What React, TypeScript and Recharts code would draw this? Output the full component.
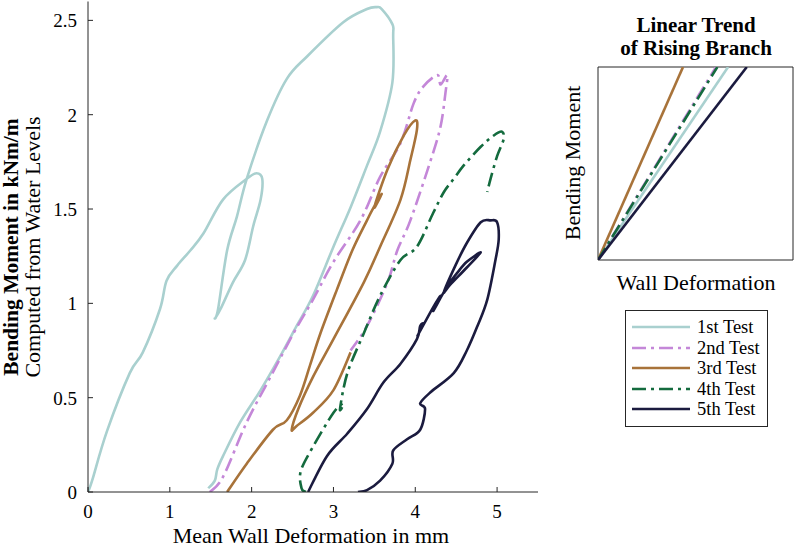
import React from "react";
import { ComposedChart, Line, XAxis, YAxis, ReferenceArea, Legend } from "recharts";

// tick labels and legend names
const xTicks = [0, 1, 2, 3, 4, 5];
const yTicks = [0, 0.5, 1, 1.5, 2, 2.5];
const testNames = ["1st Test", "2nd Test", "3rd Test", "4th Test", "5th Test"];

// measured loops, [deformation in mm, bending moment in kNm/m]
const test1: [number, number][] = [
    [0, 0], [0.05, 0.06], [0.23, 0.32], [0.51, 0.63], [0.67, 0.74], [0.88, 0.97],
    [0.96, 1.12], [1.09, 1.2], [1.25, 1.28], [1.41, 1.37], [1.65, 1.55], [1.94, 1.66],
    [2.06, 1.69], [2.13, 1.66], [2.11, 1.55], [2.02, 1.41], [1.92, 1.23], [1.77, 1.11],
    [1.62, 0.97], [1.55, 0.92], [1.59, 0.97], [1.7, 1.28], [1.82, 1.46], [1.94, 1.66],
    [2.19, 1.97], [2.43, 2.19], [2.68, 2.31], [3.12, 2.49], [3.41, 2.56], [3.53, 2.57],
    [3.59, 2.56], [3.72, 2.48], [3.73, 2.42], [3.72, 2.17], [3.57, 1.91], [3.41, 1.73],
    [3.21, 1.51], [3.0, 1.3], [2.75, 1.04], [2.55, 0.88], [2.35, 0.72], [2.11, 0.54],
    [1.86, 0.37], [1.65, 0.19], [1.58, 0.12], [1.55, 0.06], [1.47, 0.02],
];

const test2: [number, number][] = [
    [1.49, 0], [1.65, 0.08], [1.94, 0.37], [2.23, 0.61], [2.51, 0.84], [2.75, 1.02],
    [3.0, 1.22], [3.33, 1.44], [3.57, 1.67], [3.82, 1.85], [3.98, 2.06], [4.1, 2.15],
    [4.27, 2.21], [4.31, 2.16], [4.39, 2.21], [4.37, 2.12], [4.31, 1.94], [4.19, 1.76],
    [3.94, 1.44], [3.78, 1.28], [3.66, 1.11], [3.41, 0.88], [3.21, 0.75],
];

const test3: [number, number][] = [
    [1.7, 0], [1.94, 0.15], [2.26, 0.33], [2.43, 0.38], [2.59, 0.51], [2.72, 0.68],
    [2.84, 0.84], [3.04, 1.07], [3.23, 1.28], [3.41, 1.44], [3.48, 1.5], [3.59, 1.58],
    [3.5, 1.51], [3.66, 1.71], [3.86, 1.89], [4.0, 1.97], [4.02, 1.92], [3.94, 1.76],
    [3.82, 1.55], [3.57, 1.3], [3.37, 1.11], [3.0, 0.81], [2.75, 0.61], [2.57, 0.44],
    [2.49, 0.33], [2.55, 0.35], [2.75, 0.42], [3.0, 0.54], [3.21, 0.74],
];

const test4: [number, number][] = [
    [2.66, 0], [2.61, 0.02], [2.6, 0.11], [2.75, 0.24], [3.0, 0.42], [3.12, 0.47],
    [3.08, 0.44], [3.17, 0.63], [3.37, 0.84], [3.57, 1.04], [3.82, 1.23], [4.02, 1.3],
    [4.22, 1.48], [4.35, 1.59], [4.47, 1.66], [4.59, 1.73], [4.8, 1.83], [4.96, 1.89],
    [5.06, 1.91], [5.08, 1.87], [5.0, 1.78], [4.92, 1.66], [4.88, 1.59],
];

const test5: [number, number][] = [
    [2.69, 0], [2.92, 0.19], [3.17, 0.31], [3.41, 0.44], [3.61, 0.58], [3.82, 0.68],
    [4.02, 0.81], [4.06, 0.88], [4.1, 0.89], [4.03, 0.83], [4.22, 0.98], [4.31, 1.04],
    [4.22, 0.96], [4.39, 1.09], [4.51, 1.16], [4.63, 1.22], [4.8, 1.27], [4.63, 1.19],
    [4.43, 1.1], [4.35, 1.06], [4.49, 1.2], [4.63, 1.32], [4.8, 1.43], [4.92, 1.44],
    [5.0, 1.43], [5.02, 1.34], [4.98, 1.23], [4.88, 1.02], [4.76, 0.88], [4.63, 0.75],
    [4.47, 0.63], [4.19, 0.53], [4.06, 0.47], [4.12, 0.44], [4.06, 0.33], [3.9, 0.28],
    [3.73, 0.22], [3.72, 0.15], [3.57, 0.06], [3.41, 0.01], [3.3, 0],
];

// inset: relative deformation where each trend line reaches the top of the box
const trendEnds = [0.667, 0.605, 0.436, 0.612, 0.763];

const tests = [test1, test2, test3, test4, test5];

const seriesStyle = [
    { color: "#a9d0cf", dash: undefined },
    { color: "#c487d8", dash: "14 5 3 5" },
    { color: "#a8733a", dash: undefined },
    { color: "#146b3e", dash: "14 5 3 5" },
    { color: "#1b1b3f", dash: undefined },
];

const AXIS = "#262626";
const FONT = "'Liberation Serif', 'Times New Roman', serif";
const LINE_W = 2.6;

const toPoints = (arr: [number, number][]) => arr.map(([x, y]) => ({ x, y }));

// catmull-rom through the measured points, keeps the loop order
const smoothCurve = (context: any) => {
    let pts: [number, number][] = [];
    return {
        areaStart() {},
        areaEnd() {},
        lineStart() {
            pts = [];
        },
        point(x: number, y: number) {
            pts.push([+x, +y]);
        },
        lineEnd() {
            if (!pts.length) return;
            context.moveTo(pts[0][0], pts[0][1]);
            for (let i = 0; i < pts.length - 1; i++) {
                const p0 = pts[i - 1] || pts[i];
                const p1 = pts[i];
                const p2 = pts[i + 1];
                const p3 = pts[i + 2] || p2;
                context.bezierCurveTo(
                    p1[0] + (p2[0] - p0[0]) / 6,
                    p1[1] + (p2[1] - p0[1]) / 6,
                    p2[0] - (p3[0] - p1[0]) / 6,
                    p2[1] - (p3[1] - p1[1]) / 6,
                    p2[0],
                    p2[1]
                );
            }
        },
    };
};

const BottomTick = (p: any) => (
    <g>
        <line x1={p.x} x2={p.x} y1={p.y} y2={p.y - 5} stroke={AXIS} />
        <text x={p.x} y={p.y + 26} textAnchor="middle" fontSize={19} fontFamily={FONT} fill="#000">
            {p.payload.value}
        </text>
    </g>
);

const TopTick = (p: any) => <line x1={p.x} x2={p.x} y1={p.y} y2={p.y + 5} stroke={AXIS} />;

const LeftTick = (p: any) => (
    <g>
        <line x1={p.x} x2={p.x + 5} y1={p.y} y2={p.y} stroke={AXIS} />
        <text x={p.x - 11} y={p.y + 7} textAnchor="end" fontSize={19} fontFamily={FONT} fill="#000">
            {p.payload.value}
        </text>
    </g>
);

const RightTick = (p: any) => <line x1={p.x} x2={p.x - 5} y1={p.y} y2={p.y} stroke={AXIS} />;

const LegendBox = () => (
    <div
        style={{
            width: 143,
            height: 117,
            boxSizing: "border-box",
            border: `1px solid ${AXIS}`,
            background: "#fff",
            position: "relative",
            fontFamily: FONT,
            fontSize: 18.5,
            color: "#000",
        }}
    >
        {testNames.map((name, i) => (
            <div
                key={name}
                style={{
                    position: "absolute",
                    left: 0,
                    top: 6 + i * 20.5,
                    height: 20,
                    display: "flex",
                    alignItems: "center",
                    whiteSpace: "nowrap",
                }}
            >
                <svg width={71} height={20}>
                    <line
                        x1={6}
                        x2={64}
                        y1={10}
                        y2={10}
                        stroke={seriesStyle[i].color}
                        strokeWidth={LINE_W}
                        strokeDasharray={seriesStyle[i].dash}
                    />
                </svg>
                <span style={{ lineHeight: "20px" }}>{name}</span>
            </div>
        ))}
    </div>
);

export default function App() {
    return (
        <div style={{ position: "absolute", left: 0, top: 0, width: 796, height: 547, background: "#fff" }}>
            <div style={{ position: "absolute", left: 0, top: 0 }}>
                <ComposedChart width={560} height={547} margin={{ top: 1.5, right: 22, bottom: 0, left: 0 }}>
                    <XAxis
                        dataKey="x"
                        type="number"
                        domain={[0, 5.5]}
                        ticks={xTicks}
                        interval={0}
                        height={55}
                        tickSize={0}
                        tickMargin={0}
                        stroke={AXIS}
                        tick={BottomTick}
                        allowDataOverflow
                    />
                    <XAxis
                        xAxisId="top"
                        orientation="top"
                        type="number"
                        domain={[0, 5.5]}
                        ticks={xTicks}
                        interval={0}
                        height={0}
                        tickSize={0}
                        tickMargin={0}
                        stroke={AXIS}
                        tick={TopTick}
                        allowDataOverflow
                    />
                    <YAxis
                        type="number"
                        domain={[0, 2.6]}
                        ticks={yTicks}
                        interval={0}
                        width={88}
                        tickSize={0}
                        tickMargin={0}
                        stroke={AXIS}
                        tick={LeftTick}
                        allowDataOverflow
                    />
                    <YAxis
                        yAxisId="right"
                        orientation="right"
                        type="number"
                        domain={[0, 2.6]}
                        ticks={yTicks}
                        interval={0}
                        width={0}
                        tickSize={0}
                        tickMargin={0}
                        stroke={AXIS}
                        tick={RightTick}
                        allowDataOverflow
                    />
                    {tests.map((t, i) => (
                        <Line
                            key={testNames[i]}
                            data={toPoints(t)}
                            dataKey="y"
                            type={smoothCurve as any}
                            stroke={seriesStyle[i].color}
                            strokeWidth={LINE_W}
                            strokeDasharray={seriesStyle[i].dash}
                            strokeLinejoin="round"
                            dot={false}
                            activeDot={false}
                            isAnimationActive={false}
                        />
                    ))}
                    <text
                        x={18}
                        y={247}
                        transform="rotate(-90 18 247)"
                        textAnchor="middle"
                        fontSize={21.5}
                        fontWeight="bold"
                        fontFamily={FONT}
                        fill="#000"
                    >
                        Bending Moment in kNm/m
                    </text>
                    <text
                        x={40}
                        y={247}
                        transform="rotate(-90 40 247)"
                        textAnchor="middle"
                        fontSize={22}
                        fontFamily={FONT}
                        fill="#000"
                    >
                        Computed from Water Levels
                    </text>
                    <text x={311} y={543} textAnchor="middle" fontSize={22} fontFamily={FONT} fill="#000">
                        Mean Wall Deformation in mm
                    </text>
                </ComposedChart>
            </div>

            <div style={{ position: "absolute", left: 560, top: 0 }}>
                <ComposedChart width={236} height={300} margin={{ top: 67, right: 3, bottom: 40, left: 38 }}>
                    <XAxis dataKey="x" type="number" domain={[0, 1]} hide allowDataOverflow />
                    <YAxis type="number" domain={[0, 1]} hide allowDataOverflow />
                    <ReferenceArea x1={0} x2={1} y1={0} y2={1} fill="#fff" fillOpacity={0} stroke={AXIS} strokeWidth={1} />
                    {trendEnds.map((end, i) => (
                        <Line
                            key={testNames[i]}
                            data={[{ x: 0, y: 0 }, { x: end, y: 1 }]}
                            dataKey="y"
                            type="linear"
                            stroke={seriesStyle[i].color}
                            strokeWidth={LINE_W}
                            strokeDasharray={seriesStyle[i].dash}
                            dot={false}
                            activeDot={false}
                            isAnimationActive={false}
                        />
                    ))}
                    <Legend
                        layout="vertical"
                        align="center"
                        verticalAlign="middle"
                        content={LegendBox}
                        wrapperStyle={{ left: 65, top: 310, width: 143, height: 117 }}
                    />
                    <text x={136} y={32} textAnchor="middle" fontSize={21} fontWeight="bold" fontFamily={FONT} fill="#000">
                        Linear Trend
                    </text>
                    <text x={136} y={55} textAnchor="middle" fontSize={21} fontWeight="bold" fontFamily={FONT} fill="#000">
                        of Rising Branch
                    </text>
                    <text
                        x={20}
                        y={163}
                        transform="rotate(-90 20 163)"
                        textAnchor="middle"
                        fontSize={22}
                        fontFamily={FONT}
                        fill="#000"
                    >
                        Bending Moment
                    </text>
                    <text x={136} y={290} textAnchor="middle" fontSize={22} fontFamily={FONT} fill="#000">
                        Wall Deformation
                    </text>
                </ComposedChart>
            </div>
        </div>
    );
}
